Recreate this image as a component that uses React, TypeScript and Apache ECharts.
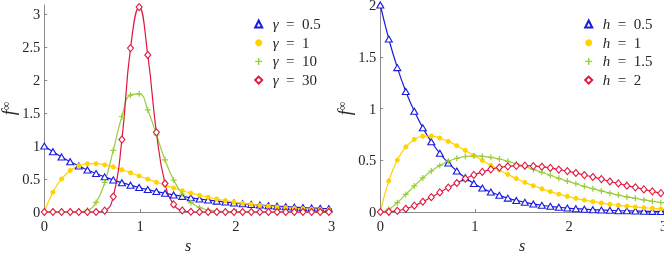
import React, { useEffect, useRef } from 'react';
import * as echarts from 'echarts';

// s positions of the plotted points (markers every 0.09, line ends at 3)
const S = [0, 0.09, 0.18, 0.27, 0.36, 0.45, 0.54, 0.63, 0.72, 0.81, 0.9, 0.99, 1.08, 1.17, 1.26, 1.35, 1.44, 1.53, 1.62, 1.71, 1.8, 1.89, 1.98, 2.07, 2.16, 2.25, 2.34, 2.43, 2.52, 2.61, 2.7, 2.79, 2.88, 2.97, 3];

// left panel
const gamma05 = [1, 0.914, 0.835, 0.763, 0.698, 0.638, 0.583, 0.533, 0.487, 0.445, 0.407, 0.372, 0.34, 0.31, 0.284, 0.259, 0.237, 0.217, 0.198, 0.181, 0.165, 0.151, 0.138, 0.126, 0.115, 0.105, 0.096, 0.088, 0.081, 0.074, 0.067, 0.061, 0.056, 0.051, 0.05];
const gamma1 = [0, 0.301, 0.502, 0.629, 0.701, 0.732, 0.734, 0.715, 0.682, 0.641, 0.595, 0.547, 0.498, 0.451, 0.406, 0.363, 0.323, 0.287, 0.254, 0.224, 0.197, 0.172, 0.151, 0.132, 0.115, 0.1, 0.087, 0.075, 0.065, 0.056, 0.049, 0.042, 0.036, 0.031, 0.03];
const gamma10 = [0, 0, 0, 0, 0.002, 0.027, 0.145, 0.448, 0.936, 1.449, 1.774, 1.793, 1.548, 1.171, 0.791, 0.485, 0.273, 0.143, 0.07, 0.032, 0.014, 0.006, 0.002, 0.001, 0, 0, 0, 0, 0, 0, 0, 0, 0, 0, 0];
const gamma30 = [0, 0, 0, 0, 0, 0, 0.0005, 0.02, 0.234, 1.099, 2.486, 3.108, 2.381, 1.209, 0.433, 0.115, 0.023, 0.004, 0, 0, 0, 0, 0, 0, 0, 0, 0, 0, 0, 0, 0, 0, 0, 0, 0];

// right panel
const h05 = [2, 1.671, 1.395, 1.165, 0.974, 0.813, 0.679, 0.567, 0.474, 0.396, 0.331, 0.276, 0.231, 0.193, 0.161, 0.134, 0.112, 0.094, 0.078, 0.065, 0.055, 0.046, 0.038, 0.032, 0.027, 0.022, 0.019, 0.016, 0.013, 0.011, 0.009, 0.008, 0.006, 0.005, 0.005];
const h1 = [0, 0.301, 0.502, 0.629, 0.701, 0.732, 0.734, 0.715, 0.682, 0.641, 0.595, 0.547, 0.498, 0.451, 0.406, 0.363, 0.323, 0.287, 0.254, 0.224, 0.197, 0.172, 0.151, 0.132, 0.115, 0.1, 0.087, 0.075, 0.065, 0.056, 0.049, 0.042, 0.036, 0.031, 0.03];
const h15 = [0, 0.027, 0.09, 0.17, 0.252, 0.329, 0.396, 0.45, 0.491, 0.519, 0.536, 0.542, 0.538, 0.528, 0.512, 0.49, 0.465, 0.439, 0.411, 0.383, 0.355, 0.325, 0.299, 0.273, 0.248, 0.225, 0.204, 0.182, 0.164, 0.146, 0.132, 0.117, 0.104, 0.092, 0.09];
const h2 = [0, 0.002, 0.011, 0.031, 0.061, 0.099, 0.143, 0.189, 0.236, 0.28, 0.322, 0.358, 0.387, 0.412, 0.43, 0.441, 0.446, 0.448, 0.444, 0.437, 0.426, 0.41, 0.395, 0.377, 0.357, 0.338, 0.318, 0.295, 0.276, 0.254, 0.238, 0.218, 0.2, 0.182, 0.18];

const X_TICKS = [0, 1, 2, 3];
const LEFT_LABELS: Record<string, string> = { g05: '0.5', g1: '1', g10: '10', g30: '30' };
const RIGHT_LABELS: Record<string, string> = { h05: '0.5', h1: '1', h15: '1.5', h2: '2' };

const BLUE = '#1a1ae0';
const GOLD = '#ffd200';
const GREEN = '#9acd3a';
const RED = '#e0183f';
const PLUS = 'path://M4,0H6V4H10V6H6V10H4V6H0V4H4Z';
const SERIF = 'Liberation Serif';
const TXT = '#262626';
const AX = '#8a8a8a';

function mk(v: number[]) {
  return S.map((s, i) => (i === S.length - 1 ? { value: [s, v[i]], symbol: 'none' } : [s, v[i]]));
}

const STY: any = {
  tri: { symbol: 'triangle', symbolSize: [7, 6], itemStyle: { color: '#fff', borderColor: BLUE, borderWidth: 1.1 }, lineStyle: { color: BLUE, width: 1.2 } },
  dot: { symbol: 'circle', symbolSize: 5, itemStyle: { color: GOLD, borderWidth: 0 }, lineStyle: { color: GOLD, width: 1.2 } },
  plus: { symbol: PLUS, symbolSize: 6, itemStyle: { color: GREEN, borderWidth: 0 }, lineStyle: { color: GREEN, width: 1.2 } },
  dia: { symbol: 'diamond', symbolSize: [6, 7], itemStyle: { color: '#fff', borderColor: RED, borderWidth: 1.1 }, lineStyle: { color: RED, width: 1.2 } },
};

function series(name: string, v: number[], sty: string, idx: number) {
  return {
    type: 'line', name, data: mk(v), xAxisIndex: idx, yAxisIndex: idx,
    smooth: 0.5, showAllSymbol: true, clip: false,
    ...STY[sty],
    emphasis: { disabled: true },
  };
}

function xAxis(idx: number) {
  return {
    type: 'value', gridIndex: idx, min: 0, max: 3, interval: 1,
    name: 's', nameLocation: 'middle', nameGap: 25,
    nameTextStyle: { fontFamily: SERIF, fontStyle: 'italic', fontSize: 16, color: TXT, lineHeight: 14 },
    axisLine: { show: true, lineStyle: { color: AX, width: 1 } },
    axisTick: { show: true, inside: true, length: 3, lineStyle: { color: AX } },
    splitLine: { show: false },
    axisLabel: {
      fontFamily: SERIF, fontSize: 14.5, color: TXT, margin: 6,
      formatter: (v: number) => (X_TICKS.includes(v) ? String(v) : ''),
    },
  };
}

function yAxis(idx: number, max: number) {
  return {
    type: 'value', gridIndex: idx, min: 0, max, interval: 0.5,
    name: '{f|f}{s|∞}', nameLocation: 'middle', nameGap: 20, nameRotate: 90,
    nameTextStyle: {
      rich: {
        f: { fontFamily: SERIF, fontStyle: 'italic', fontSize: 18, color: TXT, lineHeight: 18 },
        s: { fontFamily: SERIF, fontSize: 12, color: TXT, verticalAlign: 'top', lineHeight: 11 },
      },
    },
    axisLine: { show: true, lineStyle: { color: AX, width: 1 } },
    axisTick: { show: true, inside: true, length: 3, lineStyle: { color: AX } },
    splitLine: { show: false },
    axisLabel: {
      fontFamily: SERIF, fontSize: 14.5, color: TXT, margin: 4, lineHeight: 10,
      showMaxLabel: max === 2,
      formatter: (v: number) => (Math.abs(v * 2 - Math.round(v * 2)) < 1e-6 ? String(v) : ''),
    },
  };
}

function legend(names: string[], left: number, labels: Record<string, string>, sym: string) {
  const icons = ['triangle', 'circle', PLUS, 'diamond'];
  return {
    orient: 'vertical', left, top: 16.5, padding: 0, itemGap: 3.7,
    itemWidth: 7, itemHeight: 7,
    data: names.map((n, i) => ({ name: n, icon: icons[i] })),
    formatter: (n: string) => `{sp|}{i|${sym}}\u2002=\u2002${labels[n]}`,
    textStyle: {
      fontFamily: SERIF, fontSize: 15, color: TXT, lineHeight: 15,
      rich: {
        sp: { width: 5.5 },
        i: { fontFamily: SERIF, fontStyle: 'italic', fontSize: 15, color: TXT, lineHeight: 15 },
      },
    },
    selectedMode: false,
  };
}

export default function App() {
  const ref = useRef<HTMLDivElement>(null);
  useEffect(() => {
    const chart = echarts.init(ref.current!, null, { renderer: 'svg' });
    chart.setOption({
      animation: false,
      grid: [
        { left: 44.3, top: 5, width: 287.4, height: 207, outerBoundsMode: 'none', containLabel: false },
        { left: 380.3, top: 5, width: 283.4, height: 207, outerBoundsMode: 'none', containLabel: false },
      ],
      xAxis: [xAxis(0), xAxis(1)],
      yAxis: [yAxis(0, 3.14), yAxis(1, 2)],
      legend: [
        legend(['g05', 'g1', 'g10', 'g30'], 254.2, LEFT_LABELS, 'γ'),
        legend(['h05', 'h1', 'h15', 'h2'], 584.2, RIGHT_LABELS, 'h'),
      ],
      series: [
        series('g05', gamma05, 'tri', 0),
        series('g1', gamma1, 'dot', 0),
        series('g10', gamma10, 'plus', 0),
        series('g30', gamma30, 'dia', 0),
        series('h05', h05, 'tri', 1),
        series('h1', h1, 'dot', 1),
        series('h15', h15, 'plus', 1),
        series('h2', h2, 'dia', 1),
      ],
    });
    return () => chart.dispose();
  }, []);
  return <div ref={ref} style={{ position: 'fixed', left: 0, top: 0, width: 664, height: 253 }} />;
}
